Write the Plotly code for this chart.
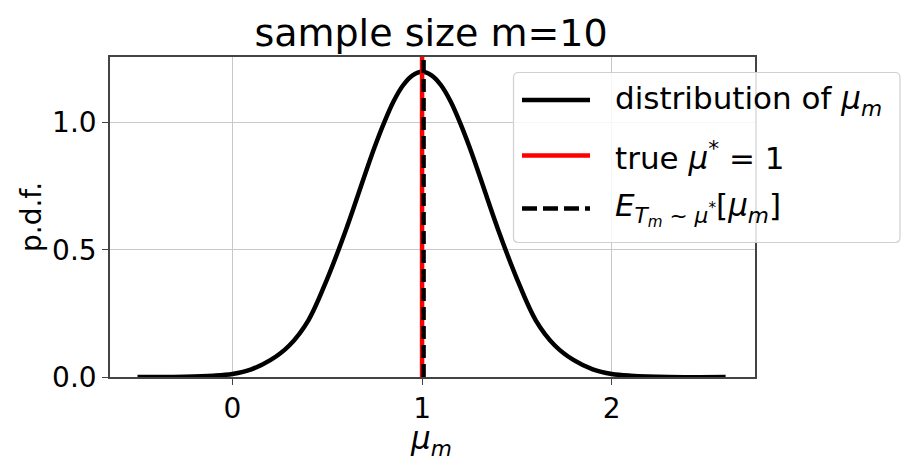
import plotly.graph_objects as go

# ---- data ----
mu_values = [-0.5, -0.25, -0.1, 0.0, 0.1, 0.2, 0.3, 0.4, 0.5, 0.6, 0.7, 0.75, 0.8, 0.85, 0.9, 0.95,
             1.0, 1.05, 1.1, 1.15, 1.2, 1.25, 1.3, 1.4, 1.5, 1.6, 1.7, 1.8, 1.9, 2.0, 2.1, 2.3, 2.6]
pdf_values = [0.000, 0.001, 0.005, 0.012, 0.030, 0.066, 0.124, 0.222, 0.386, 0.581, 0.798, 0.904, 1.000, 1.084, 1.147, 1.186,
              1.200, 1.186, 1.147, 1.084, 1.000, 0.904, 0.798, 0.581, 0.386, 0.222, 0.124, 0.066, 0.030, 0.012, 0.005, 0.000, 0.000]
true_mu = 1.0
expected_mu = 1.008
x_ticks = [0, 1, 2]
x_tick_labels = ["0", "1", "2"]
y_ticks = [0.0, 0.5, 1.0]
y_tick_labels = ["0.0", "0.5", "1.0"]
NB = "\u00a0"
legend_labels = [
    "distribution of" + NB + "<i>μ</i><sub><i>m</i></sub>",
    "true <i>μ</i><sup>*</sup>" + NB + "=" + NB + "1",
    "<i>E</i><sub><i>T</i><sub><i>m</i></sub> ~ <i>μ</i><sup>*</sup></sub>[<i>μ</i><sub><i>m</i></sub>]",
]
legend_sizes = [31, 31, 31]

W, H = 910, 464
ML, MR, MT, MB = 110, 155, 57, 87
PW, PH = W - ML - MR, H - MT - MB
FONT = "DejaVu Sans"
LW = 4.5


def px(x):
    return (x - ML) / PW


def py(y):
    return (H - MB - y) / PH


fig = go.Figure()
fig.add_trace(go.Scatter(x=mu_values, y=pdf_values, mode="lines",
                         line=dict(color="black", width=LW, shape="spline", smoothing=1.0),
                         showlegend=False, hoverinfo="skip"))

fig.add_vline(x=true_mu, line=dict(color="red", width=LW))
fig.add_vline(x=expected_mu, line=dict(color="black", width=LW, dash="13px,6px"))

# ---- manual legend ----
bx0, bx1, by0, by1, r = 513.5, 900, 72.5, 242.5, 5
path = (f"M {px(bx0 + r)},{py(by0)} L {px(bx1 - r)},{py(by0)} "
        f"Q {px(bx1)},{py(by0)} {px(bx1)},{py(by0 + r)} L {px(bx1)},{py(by1 - r)} "
        f"Q {px(bx1)},{py(by1)} {px(bx1 - r)},{py(by1)} L {px(bx0 + r)},{py(by1)} "
        f"Q {px(bx0)},{py(by1)} {px(bx0)},{py(by1 - r)} L {px(bx0)},{py(by0 + r)} "
        f"Q {px(bx0)},{py(by0)} {px(bx0 + r)},{py(by0)} Z")
fig.add_shape(type="path", path=path, xref="paper", yref="paper",
              fillcolor="rgba(255,255,255,0.85)", line=dict(color="#d0d0d0", width=1.2), layer="above")

rows_y = [100, 155.5, 208.5]
styles = [dict(color="black", width=LW), dict(color="red", width=LW),
          dict(color="black", width=LW, dash="15px,6px")]
for yy, st, lab, fs in zip(rows_y, styles, legend_labels, legend_sizes):
    fig.add_shape(type="line", xref="paper", yref="paper", x0=px(522), x1=px(590),
                  y0=py(yy), y1=py(yy), line=st, layer="above")
    fig.add_annotation(x=px(613), y=py(yy), xref="paper", yref="paper", text=lab,
                       showarrow=False, xanchor="left", yanchor="middle",
                       font=dict(family=FONT, size=fs, color="black"))

# axis titles
fig.add_annotation(x=px(431), y=py(440), xref="paper", yref="paper",
                   text="<i>μ</i><sub><i>m</i></sub>", showarrow=False,
                   xanchor="center", yanchor="middle",
                   font=dict(family=FONT, size=31, color="black"))
fig.add_annotation(x=px(31), y=py(217), xref="paper", yref="paper",
                   text="p.d.f.", showarrow=False, textangle=-90,
                   xanchor="center", yanchor="middle",
                   font=dict(family=FONT, size=28, color="black"))

fig.update_layout(
    width=W, height=H,
    margin=dict(l=ML, r=MR, t=MT, b=MB),
    paper_bgcolor="white", plot_bgcolor="white",
    title=dict(text="sample size m=10", x=431 / W, xref="container", xanchor="center",
               y=1 - 33 / H, yanchor="middle",
               font=dict(family=FONT, size=38, color="black")),
    showlegend=False,
    font=dict(family=FONT, color="black"),
)
fig.update_xaxes(range=[-0.645, 2.755], tickvals=x_ticks, ticktext=x_tick_labels,
                 showgrid=True, gridcolor="#c8c8c8", gridwidth=1,
                 showline=True, linecolor="#444", linewidth=1.5, mirror=True,
                 ticks="outside", ticklen=6, tickcolor="#444", tickwidth=1.2,
                 tickfont=dict(family=FONT, size=28, color="black"), zeroline=False)
fig.update_yaxes(range=[0, 1.258], tickvals=y_ticks, ticktext=y_tick_labels,
                 showgrid=True, gridcolor="#c8c8c8", gridwidth=1,
                 showline=True, linecolor="#444", linewidth=1.5, mirror=True,
                 ticks="outside", ticklen=6, tickcolor="#444", tickwidth=1.2,
                 tickfont=dict(family=FONT, size=28, color="black"), zeroline=False)

fig.write_html("out.html")
